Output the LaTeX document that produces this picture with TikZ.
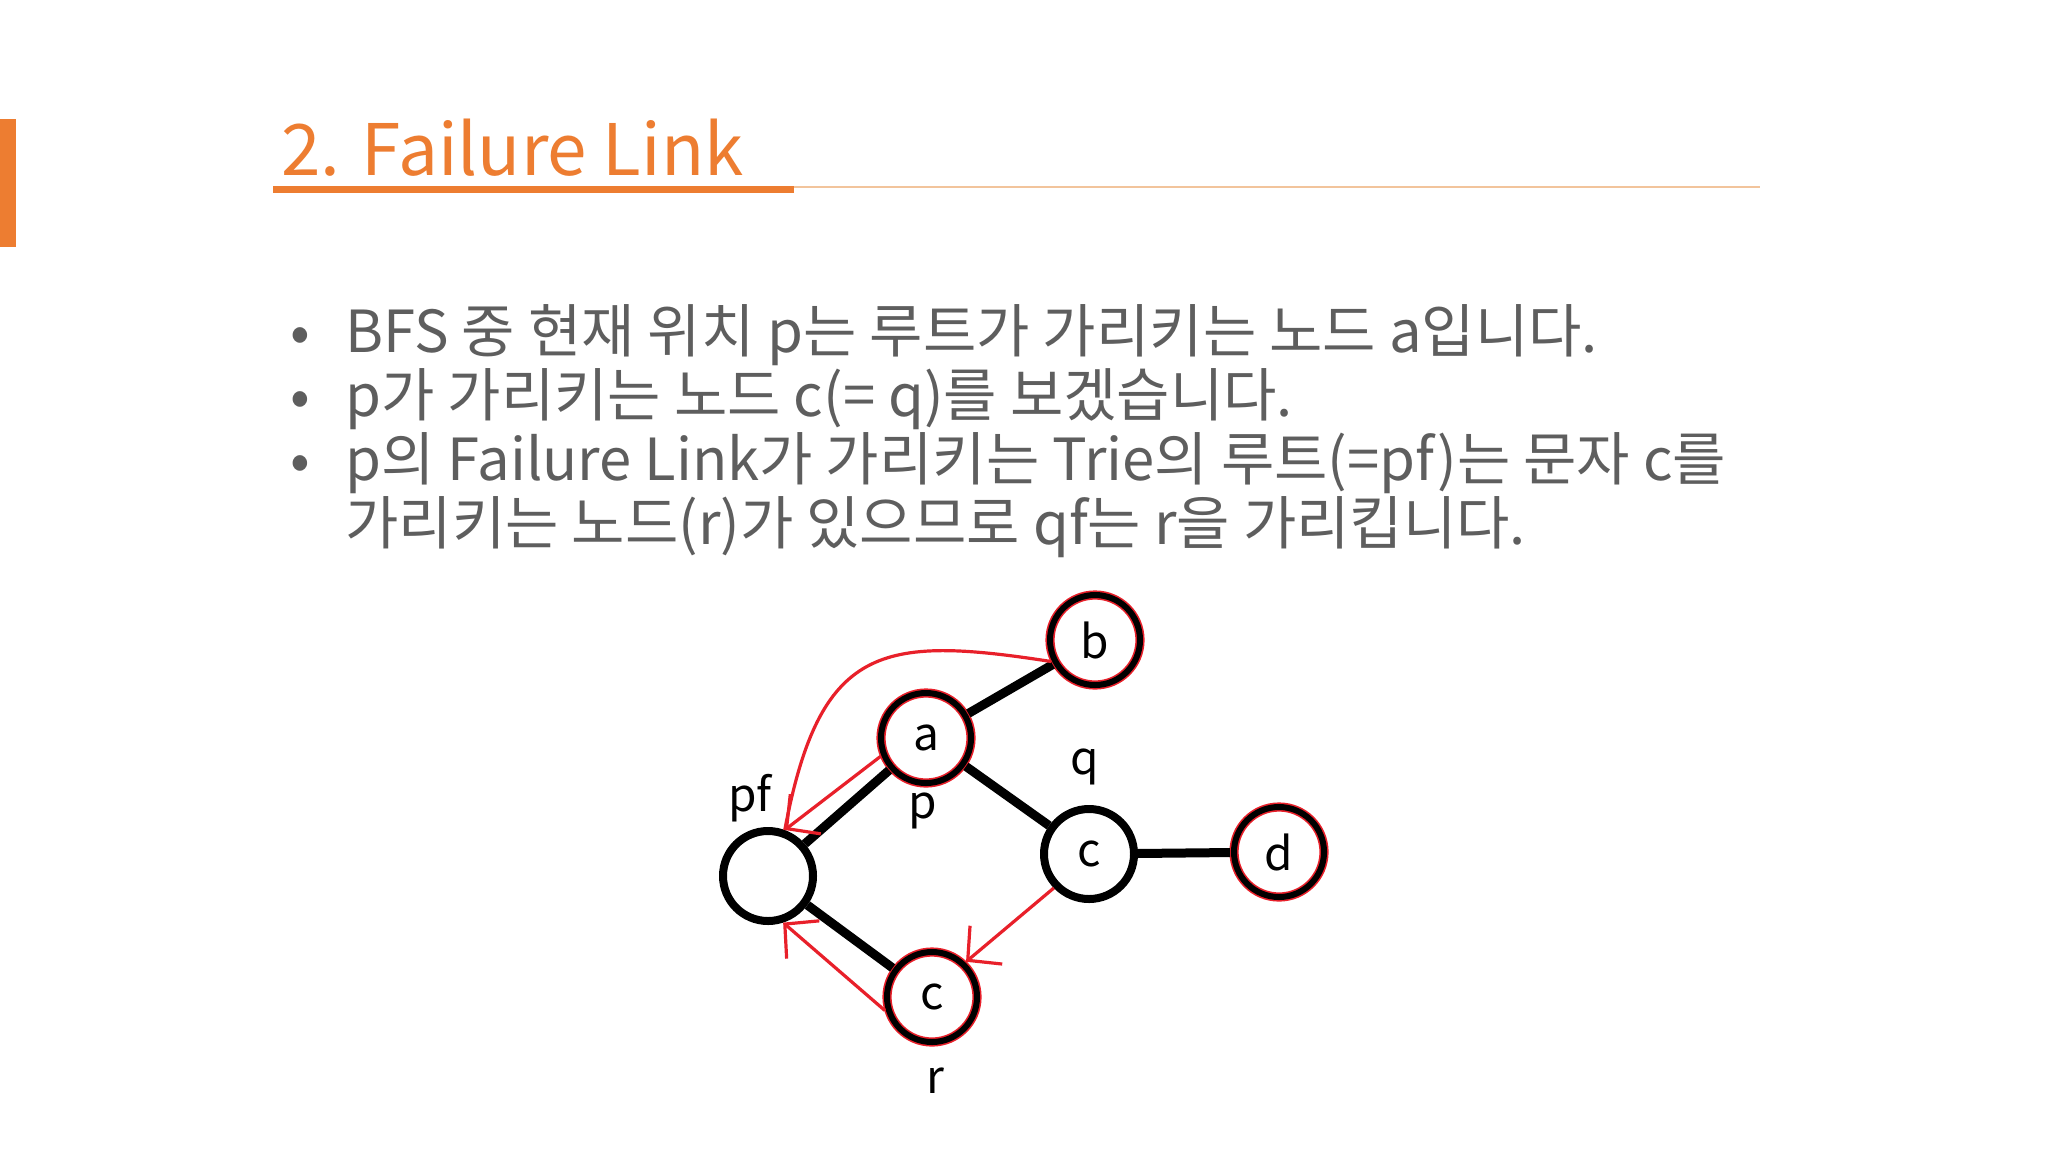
\documentclass[tikz,border=0pt]{standalone}
\usepackage{fontspec}
\usetikzlibrary{arrows.meta}
\newfontfamily\krfont[WordSpace=1.25]{Noto Sans CJK KR}
\newfontfamily\labfont{Noto Sans CJK KR}
\definecolor{titleorange}{HTML}{ED7D31}
\definecolor{lineorange}{HTML}{F2C49C}
\definecolor{textgray}{HTML}{5E5E5E}
\definecolor{linkred}{HTML}{E8202A}
\begin{document}
\begin{tikzpicture}[x=0.5pt,y=-0.5pt,
    trie/.style={shape=circle,draw,line width=4pt,minimum size=45pt,inner sep=0pt,outer sep=2pt,
      font=\labfont\fontsize{23}{23}\selectfont},
    hit/.style={trie,draw=linkred,double=black,double distance=3pt,line width=0.8pt},
    lbl/.style={font=\labfont\fontsize{23}{23}\selectfont},
    bodyline/.style={anchor=base west,inner sep=0pt,text=textgray,font=\krfont\fontsize{29}{29}\selectfont},
    fail/.style={draw=linkred,line width=1.6pt},
    failtip/.style={fail,-{Straight Barb[length=12pt,width=25pt]}}]
    \fill [white] (0,0) rectangle (2048,1152);
    \useasboundingbox (0,0) rectangle (2048,1152);
    % slide heading
    \fill [titleorange] (0,119) rectangle (16,247);
    \path (281,175) node (title) [anchor=base west,inner sep=0pt,text=titleorange,
      font=\krfont\fontsize{35.5}{35.5}\selectfont] {2. Failure Link};
    \fill [titleorange] (273,186) rectangle (794,193);
    \draw [lineorange, line width=0.8pt] (794,187) -- (1760,187);
    % bullets
    \path (290,352) node (d1) [bodyline] {•}
    (345,352) node (l1) [bodyline] {BFS 중 현재 위치 p는 루트가 가리키는 노드 a입니다.}
    (290,416) node (d2) [bodyline] {•}
    (345,416) node (l2) [bodyline] {p가 가리키는 노드 c(= q)를 보겠습니다.}
    (290,480) node (d3) [bodyline] {•}
    (345,480) node (l3) [bodyline] {p의 Failure Link가 가리키는 Trie의 루트(=pf)는 문자 c를}
    (345,544) node (l4) [bodyline] {가리키는 노드(r)가 있으므로 qf는 r을 가리킵니다.};
    % trie
    \path (768,876) node (0) [trie] {}
    (926,738) node (1) [hit] {a}
    (1095,640) node (2) [hit] {b}
    (1089,854) node (3) [trie] {c}
    (1279,852) node (4) [hit] {d}
    (932,997) node (5) [hit] {c};
    \path (750,798) node (pf) [lbl] {pf}
    (923,811) node (p) [lbl] {p}
    (1085,767) node (q) [lbl] {q}
    (935,1081) node (r) [lbl] {r};
    \draw [line width=4.5pt] (0) -- (1);
    \draw [line width=4.5pt] (1) -- (2);
    \draw [line width=4.5pt] (1) -- (3);
    \draw [line width=4.5pt] (3) -- (4);
    \draw [line width=4.5pt] (0) -- (5);
    % failure links
    \draw [fail] (2.206) .. controls (880,635) and (820,645) .. (0.70);
    \draw [failtip] (1.202) -- (0.70);
    \draw [failtip] (3.224) -- (5.46);
    \draw [failtip] (5.196) -- (0.-72);
\end{tikzpicture}
\end{document}
